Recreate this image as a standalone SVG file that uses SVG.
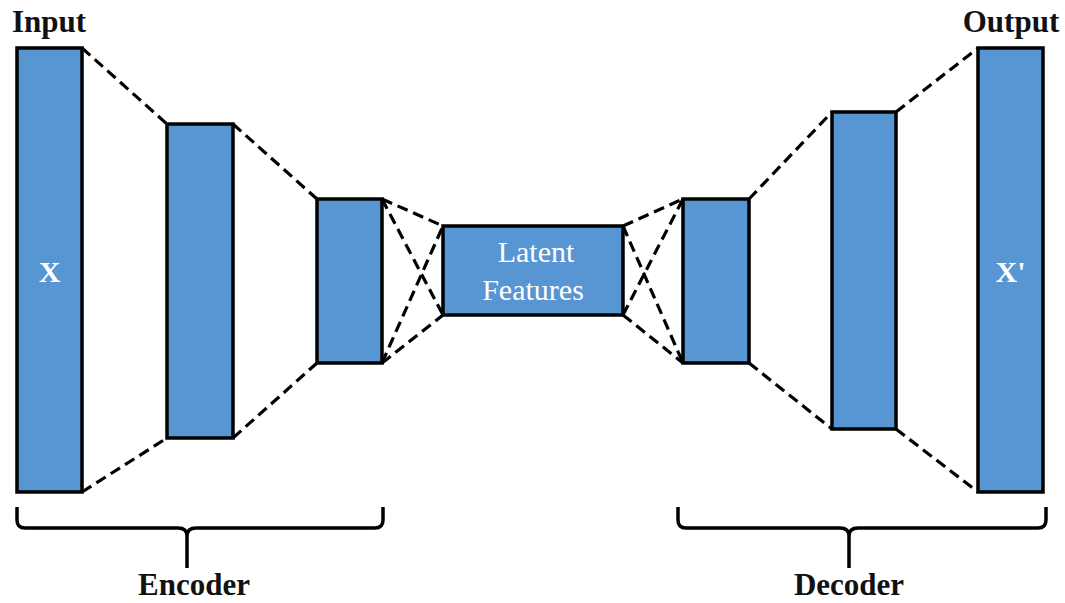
<svg xmlns="http://www.w3.org/2000/svg" width="1065" height="603" viewBox="0 0 1065 603">
<style>
.blk{fill:#5796d3;stroke:#000;stroke-width:3.5}
.dash{stroke:#000;stroke-width:3.2;stroke-dasharray:11 6;fill:none}
.br{stroke:#000;stroke-width:3.5;fill:none}
.lbl{font-family:"Liberation Serif",serif;font-weight:bold;font-size:31px;fill:#111}
.in{font-family:"Liberation Serif",serif;font-size:30px;fill:#fff}
.inb{font-family:"Liberation Serif",serif;font-weight:bold;font-size:30px;fill:#fff}
</style>
<rect width="1065" height="603" fill="#fff"/>
<g id="connectors">
<line class="dash" x1="82" y1="48" x2="167" y2="124"/>
<line class="dash" x1="82" y1="492" x2="167" y2="438"/>
<line class="dash" x1="233" y1="124" x2="317" y2="199"/>
<line class="dash" x1="233" y1="438" x2="317" y2="363"/>
<line class="dash" x1="382" y1="199" x2="443" y2="226"/>
<line class="dash" x1="382" y1="199" x2="443" y2="315"/>
<line class="dash" x1="382" y1="363" x2="443" y2="315"/>
<line class="dash" x1="382" y1="363" x2="443" y2="226"/>
<line class="dash" x1="623" y1="226" x2="683" y2="199"/>
<line class="dash" x1="623" y1="226" x2="683" y2="363"/>
<line class="dash" x1="623" y1="315" x2="683" y2="363"/>
<line class="dash" x1="623" y1="315" x2="683" y2="199"/>
<line class="dash" x1="749" y1="199" x2="832" y2="112"/>
<line class="dash" x1="749" y1="363" x2="832" y2="429"/>
<line class="dash" x1="896" y1="112" x2="978" y2="48"/>
<line class="dash" x1="896" y1="429" x2="978" y2="492"/>
</g>
<g id="input">
<rect class="blk" x="17" y="48" width="65" height="444"/>
<text class="inb" x="49.5" y="282" text-anchor="middle">X</text>
<text class="lbl" x="49" y="32" text-anchor="middle">Input</text>
</g>
<g id="enc1"><rect class="blk" x="167" y="124" width="66" height="314"/></g>
<g id="enc2"><rect class="blk" x="317" y="199" width="65" height="164"/></g>
<g id="latent">
<rect class="blk" x="443" y="226" width="180" height="89"/>
<text class="in" x="536" y="262" text-anchor="middle">Latent</text>
<text class="in" x="533" y="300" text-anchor="middle">Features</text>
</g>
<g id="dec1"><rect class="blk" x="683" y="199" width="66" height="164"/></g>
<g id="dec2"><rect class="blk" x="832" y="112" width="64" height="317"/></g>
<g id="output">
<rect class="blk" x="978" y="48" width="65" height="444"/>
<text class="inb" x="1010.5" y="282" text-anchor="middle">X'</text>
<text class="lbl" x="1011" y="32" text-anchor="middle">Output</text>
</g>
<g id="encoder">
<path class="br" d="M17,507 V520 Q17,528 25,528 H178 Q187,528 187,536 V568 M187,536 Q187,528 196,528 H375 Q383,528 383,520 V507"/>
<text class="lbl" x="194" y="595" text-anchor="middle">Encoder</text>
</g>
<g id="decoder">
<path class="br" d="M678,507 V520 Q678,528 686,528 H840 Q849,528 849,536 V568 M849,536 Q849,528 858,528 H1038 Q1046,528 1046,520 V507"/>
<text class="lbl" x="849" y="595" text-anchor="middle">Decoder</text>
</g>
</svg>
